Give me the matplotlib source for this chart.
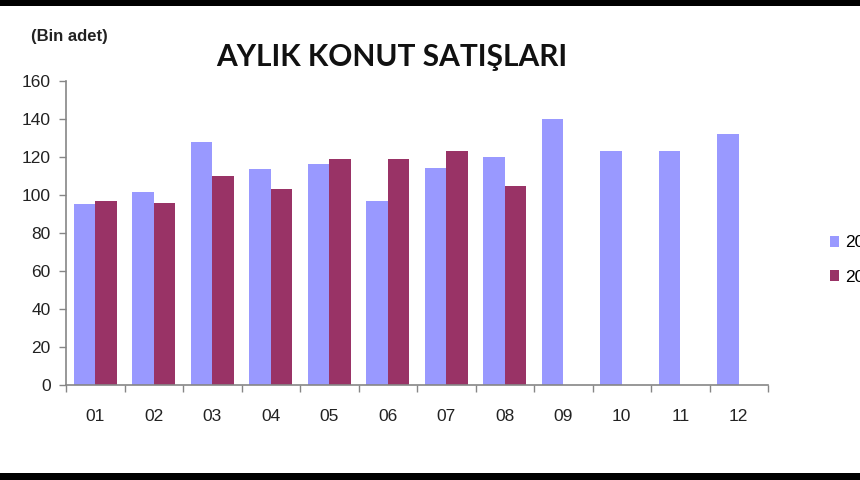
import matplotlib
matplotlib.use("Agg")
import matplotlib.pyplot as plt
import numpy as np
from matplotlib.patches import Rectangle, Patch

months = ["01", "02", "03", "04", "05", "06", "07", "08", "09", "10", "11", "12"]
series_names = ["2017", "2018"]
values_a = [95.3, 101.4, 127.7, 113.7, 116.3, 97.0, 114.4, 119.8, 140.0, 123.3, 123.3, 132.1]
values_b = [97.0, 96.0, 110.0, 103.0, 119.0, 119.0, 123.3, 104.9]
yticks = [0, 20, 40, 60, 80, 100, 120, 140, 160]

col_a = "#9999FF"
col_b = "#993366"
axis_col = "#868686"

plt.rcParams["font.family"] = ["Liberation Sans", "DejaVu Sans"]

fig = plt.figure(figsize=(8.6, 4.8), dpi=100)
fig.patch.set_facecolor("white")
# black bands top/bottom
fig.patches.append(Rectangle((0, 1 - 6 / 480), 1, 6 / 480, transform=fig.transFigure,
                             facecolor="black", edgecolor="none", zorder=10))
fig.patches.append(Rectangle((0, 0), 1, 7 / 480, transform=fig.transFigure,
                             facecolor="black", edgecolor="none", zorder=10))

ax = fig.add_axes([66 / 860, 95 / 480, 702 / 860, 304 / 480])
x = np.arange(len(months)) + 0.5
w = 0.365
ax.bar(x - w / 2, values_a, width=w, color=col_a, label=series_names[0], zorder=2)
xb = x[:len(values_b)]
ax.bar(xb + w / 2, values_b, width=w, color=col_b, label=series_names[1], zorder=2)

ax.set_xlim(0, len(months))
ax.set_ylim(0, 160)
ax.set_yticks(yticks)
ax.set_yticklabels([str(t) for t in yticks], fontsize=12.5, color="#222222")
ax.set_xticks(np.arange(len(months) + 1))
ax.set_xticklabels([])
ax.set_xticks(x, minor=True)
ax.set_xticklabels(months, minor=True, fontsize=12.5, color="#222222")
ax.tick_params(axis="x", which="major", length=5, width=1, color=axis_col, direction="out")
ax.tick_params(axis="x", which="minor", length=0, pad=17)
ax.tick_params(axis="y", length=5, width=1, color=axis_col, direction="out", pad=6)
for s in ["top", "right"]:
    ax.spines[s].set_visible(False)
for s in ["left", "bottom"]:
    ax.spines[s].set_color(axis_col)
    ax.spines[s].set_linewidth(1.2)

fig.text(216 / 860, 1 - 57 / 480, "AYLIK KONUT SATIŞLARI", fontsize=21.5, fontweight="bold",
         family=["Lato", "DejaVu Sans"], va="center", ha="left", color="#111111")
fig.text(31 / 860, 1 - 36 / 480, "(Bin adet)", fontsize=12, fontweight="bold",
         va="center", ha="left", color="#222222")

handles = [Patch(facecolor=col_a, edgecolor="none"), Patch(facecolor=col_b, edgecolor="none")]
fig.legend(handles, series_names, loc="center left", bbox_to_anchor=(823 / 860, 1 - 260 / 480),
           frameon=False, fontsize=12.5, handlelength=0.55, handleheight=0.55, handletextpad=0.3,
           labelspacing=1.1, borderaxespad=0)

fig.savefig("out.png", dpi=100)
